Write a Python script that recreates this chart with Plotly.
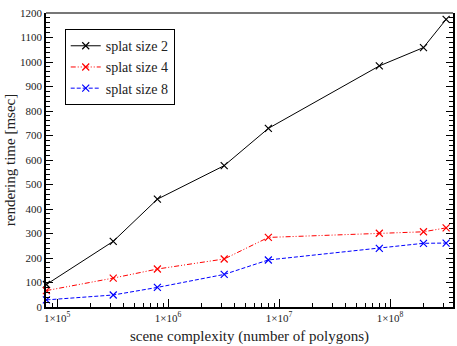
import plotly.graph_objects as go
import numpy as np

polygons = [8.0e4, 3.2e5, 8.0e5, 3.2e6, 8.0e6, 8.0e7, 2.0e8, 3.2e8]
splat2 = [92, 268, 440, 577, 729, 984, 1059, 1174]
splat4 = [67, 118, 155, 196, 284, 301, 307, 323]
splat8 = [29, 49, 80, 133, 192, 239, 260, 261]
x_tickvals = [1e5, 1e6, 1e7, 1e8]
x_ticktext = ["1×10<sup>5</sup>", "1×10<sup>6</sup>", "1×10<sup>7</sup>", "1×10<sup>8</sup>"]
y_tickvals = list(range(0, 1201, 100))

minor_x = [m * 10**e for e in range(4, 9) for m in range(2, 10)]

font = "Liberation Serif"

fig = go.Figure()
series = [
    ("splat size 2", splat2, "black", "solid"),
    ("splat size 4", splat4, "red", "5px,2px,1px,2px,1px,2px"),
    ("splat size 8", splat8, "blue", "4px,2px"),
]
for name, vals, color, dash in series:
    fig.add_trace(go.Scatter(
        x=polygons, y=vals, name=name, mode="lines+markers",
        line=dict(color=color, width=1, dash=dash),
        marker=dict(symbol="x-thin", size=7, line=dict(color=color, width=1.2)),
        cliponaxis=False,
    ))

fig.update_layout(
    width=457, height=346,
    margin=dict(l=46, r=2, t=13, b=39),
    paper_bgcolor="white", plot_bgcolor="white",
    font=dict(family=font, color="#222", size=11),
    showlegend=True,
    legend=dict(
        x=0.046, y=0.945, xanchor="left", yanchor="top",
        bordercolor="black", borderwidth=1, bgcolor="white",
        font=dict(family=font, size=14, color="#222"),
        tracegroupgap=0, itemwidth=30,
    ),
    xaxis=dict(
        type="log", range=[np.log10(7.93e4), np.log10(3.69e8)],
        tickmode="array", tickvals=x_tickvals, ticktext=x_ticktext,
        ticks="inside", ticklen=8, tickcolor="black", tickwidth=1,
        showline=True, linecolor="black", linewidth=1.5,
        showgrid=False, zeroline=False,
        minor=dict(tickmode="array", tickvals=minor_x, ticks="inside", ticklen=4, tickcolor="black", showgrid=False),
        title=dict(text="scene complexity (number of polygons)", font=dict(family=font, size=15, color="#222"), standoff=8),
        tickfont=dict(family=font, size=11, color="#222"),
    ),
    yaxis=dict(
        range=[0, 1200],
        tickmode="array", tickvals=y_tickvals,
        ticks="inside", ticklen=7, tickcolor="black", tickwidth=1,
        showline=True, linecolor="black", linewidth=1.5, mirror="ticks",
        showgrid=False, zeroline=False,
        minor=dict(dtick=20, ticks="inside", ticklen=4, tickcolor="black", showgrid=False),
        title=dict(text="rendering time [msec]", font=dict(family=font, size=15, color="#222"), standoff=1),
        tickfont=dict(family=font, size=11, color="#222"),
    ),
)
fig.add_shape(type="line", xref="paper", yref="paper", x0=0, x1=1, y0=1, y1=1,
              line=dict(color="#777", width=2))

fig.write_html("out.html", config={"displayModeBar": False},
               post_script="document.body.style.margin='0';document.body.style.overflow='hidden';")
